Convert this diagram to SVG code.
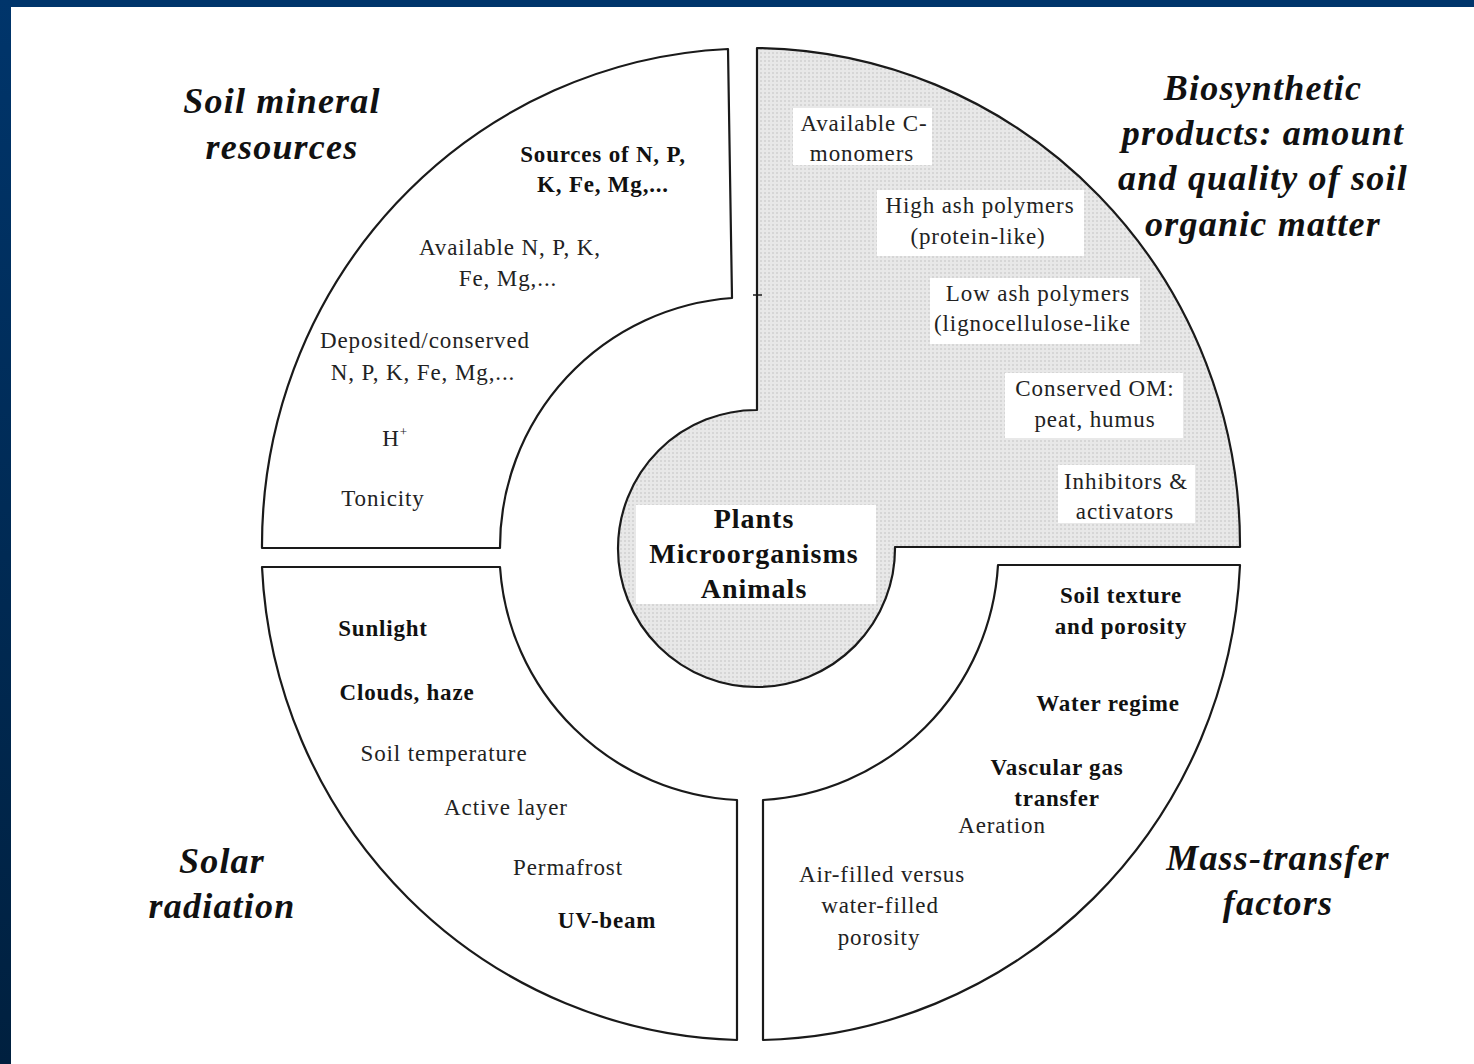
<svg xmlns="http://www.w3.org/2000/svg" width="1474" height="1064" viewBox="0 0 1474 1064">
<defs>
<linearGradient id="frameGrad" x1="0" y1="0" x2="0" y2="1">
<stop offset="0" stop-color="#00356b"/>
<stop offset="1" stop-color="#00203f"/>
</linearGradient>
<pattern id="stipple" width="4" height="4" patternUnits="userSpaceOnUse">
<rect width="4" height="4" fill="#e8e8e8"/>
<rect x="0" y="0" width="2" height="2" fill="#d6d6d6"/>
</pattern>
<clipPath id="clipLig"><rect x="930" y="278" width="210" height="66"/></clipPath>
</defs>
<style>
.seg{fill:#fff;stroke:#1a1a1a;stroke-width:2.2;stroke-linejoin:round}
.gray{fill:url(#stipple);stroke:#1a1a1a;stroke-width:2.2;stroke-linejoin:round}
.title{font-family:"Liberation Serif","DejaVu Serif",serif;font-weight:bold;font-style:italic;font-size:36px;letter-spacing:1.2px;fill:#111;text-anchor:middle}
.t{font-family:"Liberation Serif","DejaVu Serif",serif;font-size:23px;letter-spacing:0.9px;fill:#222;text-anchor:middle}
.b{font-family:"Liberation Serif","DejaVu Serif",serif;font-weight:bold;font-size:23px;letter-spacing:0.8px;fill:#111;text-anchor:middle}
.c{font-family:"Liberation Serif","DejaVu Serif",serif;font-weight:bold;font-size:28px;letter-spacing:1px;fill:#111;text-anchor:middle}
.box{fill:#fff;stroke:none}
</style>
<rect width="1474" height="1064" fill="#fff"/>
<rect x="0" y="0" width="1474" height="7" fill="#00356b"/>
<rect x="0" y="0" width="11" height="1064" fill="url(#frameGrad)"/>

<g id="soil-mineral">
<path class="seg" d="M 262 548 A 489 497 0 0 1 728 49 L 732 298 A 250 250 0 0 0 500 548 Z"/>
<text class="title" x="282" y="113">Soil mineral</text>
<text class="title" x="282" y="159">resources</text>
<text class="b" x="603" y="162">Sources of N, P,</text>
<text class="b" x="603" y="192">K, Fe, Mg,...</text>
<text class="t" x="510" y="255">Available N, P, K,</text>
<text class="t" x="508" y="286">Fe, Mg,...</text>
<text class="t" x="425" y="348">Deposited/conserved</text>
<text class="t" x="423" y="380">N, P, K, Fe, Mg,...</text>
<text class="t" x="395" y="446">H<tspan font-size="13" dy="-10">+</tspan></text>
<text class="t" x="383" y="506">Tonicity</text>
</g>

<g id="biosynthetic">
<path class="gray" d="M 757 48 A 489 497 0 0 1 1240 545 L 1240 547 L 895 547 A 138.5 138.5 0 1 1 757 410 Z"/>
<line x1="753" y1="295" x2="762" y2="295" stroke="#1a1a1a" stroke-width="1.5"/>
<text class="title" x="1263" y="100">Biosynthetic</text>
<text class="title" x="1263" y="145">products: amount</text>
<text class="title" x="1263" y="190">and quality of soil</text>
<text class="title" x="1263" y="236">organic matter</text>
<rect class="box" x="793" y="108" width="139" height="57"/>
<text class="t" x="864" y="131">Available C-</text>
<text class="t" x="862" y="161">monomers</text>
<rect class="box" x="877" y="190" width="207" height="66"/>
<text class="t" x="980" y="213">High ash polymers</text>
<text class="t" x="978" y="244">(protein-like)</text>
<rect class="box" x="930" y="278" width="210" height="66"/>
<text class="t" x="1038" y="301">Low ash polymers</text>
<text class="t" x="934" y="331" style="text-anchor:start" clip-path="url(#clipLig)">(lignocellulose-like</text>
<rect class="box" x="1005" y="373" width="178" height="65"/>
<text class="t" x="1095" y="396">Conserved OM:</text>
<text class="t" x="1095" y="427">peat, humus</text>
<rect class="box" x="1058" y="465" width="137" height="58"/>
<text class="t" x="1126" y="489">Inhibitors &amp;</text>
<text class="t" x="1125" y="519">activators</text>
</g>

<g id="center">
<rect class="box" x="636" y="505" width="240" height="99"/>
<text class="c" x="754" y="528">Plants</text>
<text class="c" x="754" y="563">Microorganisms</text>
<text class="c" x="754" y="598">Animals</text>
</g>

<g id="solar-radiation">
<path class="seg" d="M 262 567 L 500 567 A 250 250 0 0 0 737 800 L 737 1040 A 489 497 0 0 1 262 567 Z"/>
<text class="title" x="222" y="873">Solar</text>
<text class="title" x="222" y="918">radiation</text>
<text class="b" x="383" y="636">Sunlight</text>
<text class="b" x="407" y="700">Clouds, haze</text>
<text class="t" x="444" y="761">Soil temperature</text>
<text class="t" x="506" y="815">Active layer</text>
<text class="t" x="568" y="875">Permafrost</text>
<text class="b" x="607" y="928">UV-beam</text>
</g>

<g id="mass-transfer">
<path class="seg" d="M 998 565 L 1240 565 A 489 497 0 0 1 763 1040 L 763 800 A 250 250 0 0 0 998 565 Z"/>
<text class="title" x="1278" y="870">Mass-transfer</text>
<text class="title" x="1278" y="915">factors</text>
<text class="b" x="1121" y="603">Soil texture</text>
<text class="b" x="1121" y="634">and porosity</text>
<text class="b" x="1108" y="711">Water regime</text>
<text class="b" x="1057" y="775">Vascular gas</text>
<text class="b" x="1057" y="806">transfer</text>
<text class="t" x="1002" y="833">Aeration</text>
<text class="t" x="882" y="882">Air-filled versus</text>
<text class="t" x="880" y="913">water-filled</text>
<text class="t" x="879" y="945">porosity</text>
</g>

<g id="connectors"></g>
</svg>
